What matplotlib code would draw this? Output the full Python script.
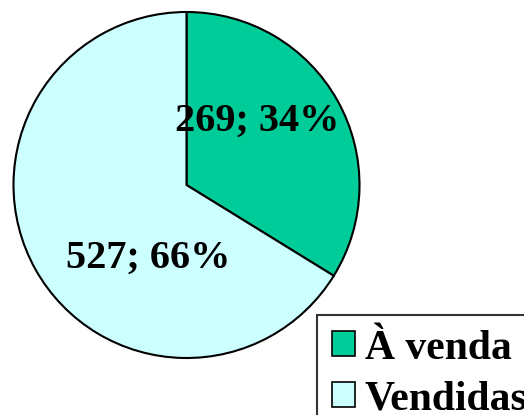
import matplotlib.pyplot as plt
from matplotlib.patches import Patch

# data
labels = ['À venda', 'Vendidas']
values = [269, 527]
colors = ['#00CC99', '#CCFFFF']

W, H = 524, 415
fig = plt.figure(figsize=(W / 100, H / 100), dpi=100)
ax = fig.add_axes([0, 0, 1, 1])

ax.pie(values, colors=colors, startangle=90, counterclock=False,
       center=(186.5, H - 185), radius=173,
       wedgeprops={'edgecolor': 'black', 'linewidth': 1.5})
ax.set_xlim(0, W)
ax.set_ylim(0, H)
ax.set_aspect('equal')
ax.axis('off')

total = sum(values)
label_pos = [(257, H - 121), (148, H - 258)]
for v, (x, y) in zip(values, label_pos):
    ax.text(x, y, '%d; %d%%' % (v, round(100 * v / total)),
            ha='center', va='center', fontsize=29, fontweight='bold',
            family='Liberation Serif')

handles = [Patch(facecolor=c, edgecolor='black', linewidth=1.2) for c in colors]
leg = ax.legend(handles, labels, loc='upper left',
                bbox_to_anchor=(317 / W, 1 - 315 / H),
                bbox_transform=fig.transFigure,
                prop={'family': 'Liberation Serif', 'weight': 'bold', 'size': 30},
                frameon=True, fancybox=False, edgecolor='black',
                handlelength=0.55, handleheight=0.55, handletextpad=0.25,
                borderpad=0.35, labelspacing=0.3, borderaxespad=0)
leg.get_frame().set_linewidth(1.5)

fig.savefig('out.png', dpi=100)
